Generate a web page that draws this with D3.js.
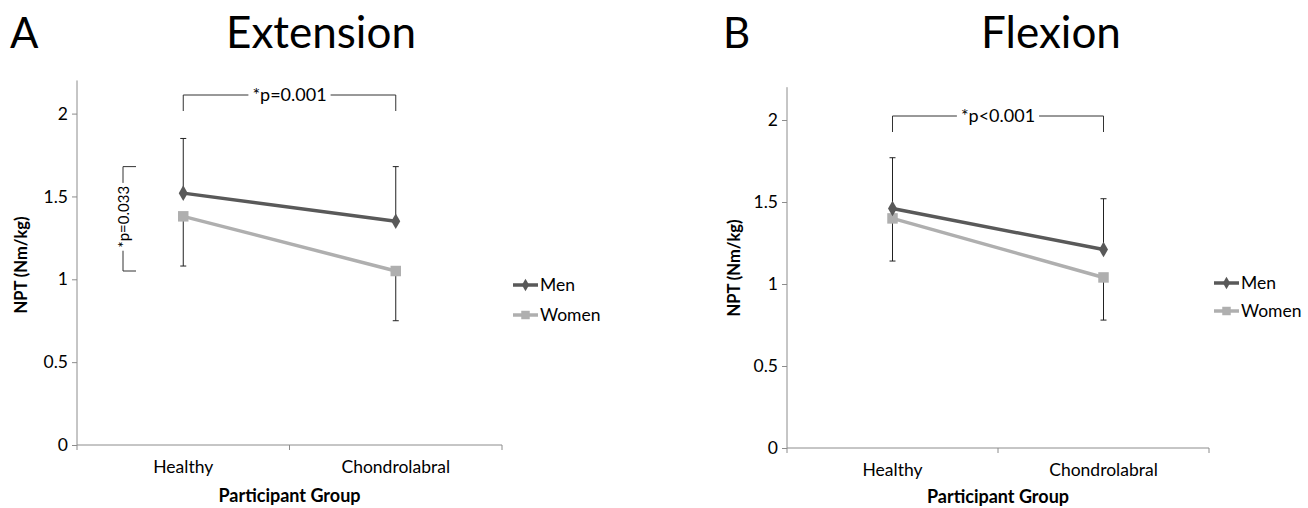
<!DOCTYPE html>
<html><head><meta charset="utf-8">
<script src="https://cdn.jsdelivr.net/npm/d3@7"></script>
<style>
body{margin:0;background:#fff;}
svg{display:block;font-family:Lato,"Open Sans",sans-serif;}
</style></head>
<body><svg id="c" width="1308" height="508"></svg>
<script>
// ---- data ----
const categories = ["Healthy", "Chondrolabral"];
const seriesNames = ["Men", "Women"];
const yTicks = [0, 0.5, 1, 1.5, 2];
const yMax = 2.2;

const extMen = [1.52, 1.35];
const extWomen = [1.38, 1.05];
const extMenSD = [0.33, 0.33];     // upward error bars
const extWomenSD = [0.30, 0.30];   // downward error bars

const flexMen = [1.46, 1.21];
const flexWomen = [1.40, 1.04];
const flexMenSD = [0.31, 0.31];
const flexWomenSD = [0.26, 0.26];

const panelLetters = ["A", "B"];
const panelTitles = ["Extension", "Flexion"];
const yLabel = "NPT (Nm/kg)";
const xLabel = "Participant Group";
const extPGroup = "*p=0.001";
const extPSex = "*p=0.033";
const extSexRange = [1.05, 1.68];
const flexPGroup = "*p<0.001";

const menColor = "#595959", womenColor = "#afafaf", axisColor = "#8c8c8c";

const svg = d3.select("#c");

function panel(o) {
  const g = svg.append("g");
  const x = d3.scaleBand().domain(categories).range([o.x0, o.x1]);
  const y = d3.scaleLinear().domain([0, yMax]).range([o.yb, o.yb - yMax * o.pxPerUnit]);
  const cx = c => x(c) + x.bandwidth() / 2;

  // titles
  g.append("text").attr("x", o.letterX).attr("y", 48).attr("font-size", 42).attr("fill", "#000").text(o.letter);
  g.append("text").attr("x", o.titleX).attr("y", 48).attr("font-size", 44).attr("text-anchor", "middle").attr("fill", "#000").text(o.title);

  // y axis
  const ya = g.append("g").attr("transform", `translate(${o.x0},0)`)
    .call(d3.axisLeft(y).tickValues(yTicks).tickSize(5).tickFormat(d3.format("")));
  ya.select(".domain").attr("stroke", axisColor).attr("d", `M0,${o.yb}V${y(yMax)}`);
  ya.selectAll(".tick line").attr("stroke", axisColor);
  ya.selectAll(".tick text").attr("font-size", 17.5).attr("fill", "#000").attr("x", -9).attr("font-family", "Lato, sans-serif");

  // x axis
  const xa = g.append("g").attr("transform", `translate(0,${o.yb})`)
    .call(d3.axisBottom(x).tickSize(0).tickPadding(16));
  xa.select(".domain").attr("stroke", axisColor).attr("d", `M${o.x0},5V0H${o.x1}V5`);
  xa.selectAll(".tick text").attr("font-size", 17.5).attr("fill", "#000").attr("font-family", "Lato, sans-serif");
  g.append("line").attr("x1", x(categories[1])).attr("x2", x(categories[1])).attr("y1", o.yb).attr("y2", o.yb + 5).attr("stroke", axisColor);

  // axis labels
  g.append("text").attr("transform", `translate(${o.yLabX},${o.yLabY}) rotate(-90)`)
    .attr("text-anchor", "middle").attr("font-size", 16.5).attr("font-weight", "bold").text(yLabel);
  g.append("text").attr("x", (o.x0 + o.x1) / 2).attr("y", o.xLabY).attr("text-anchor", "middle")
    .attr("font-size", 18).attr("font-weight", "bold").text(xLabel);

  // error bars
  const eb = (vals, sd, dir) => {
    categories.forEach((c, i) => {
      const xv = cx(c), y1 = y(vals[i]), y2 = y(vals[i] + dir * sd[i]);
      g.append("line").attr("x1", xv).attr("x2", xv).attr("y1", y1).attr("y2", y2).attr("stroke", "#222").attr("stroke-width", 1);
      g.append("line").attr("x1", xv - 3).attr("x2", xv + 3).attr("y1", y2).attr("y2", y2).attr("stroke", "#222").attr("stroke-width", 1);
    });
  };
  eb(o.men, o.menSD, 1);
  eb(o.women, o.womenSD, -1);

  // lines
  const line = d3.line().x((d, i) => cx(categories[i])).y(d => y(d));
  g.append("path").datum(o.women).attr("d", line).attr("fill", "none").attr("stroke", womenColor).attr("stroke-width", 3.5);
  g.append("path").datum(o.men).attr("d", line).attr("fill", "none").attr("stroke", menColor).attr("stroke-width", 3.5);
  const sq = d3.symbol(d3.symbolSquare, 110), dm = d3.symbol(d3.symbolDiamond, 70);
  o.women.forEach((v, i) => g.append("path").attr("d", sq()).attr("transform", `translate(${cx(categories[i])},${y(v)})`).attr("fill", womenColor));
  o.men.forEach((v, i) => g.append("path").attr("d", dm()).attr("transform", `translate(${cx(categories[i])},${y(v)})`).attr("fill", menColor));

  // legend
  [[seriesNames[0], menColor, d3.symbol(d3.symbolDiamond, 45)], [seriesNames[1], womenColor, d3.symbol(d3.symbolSquare, 72)]].forEach((s, i) => {
    const ly = o.legY + i * o.legGap;
    g.append("line").attr("x1", o.legX).attr("x2", o.legX + 25).attr("y1", ly).attr("y2", ly).attr("stroke", s[1]).attr("stroke-width", 3.5);
    g.append("path").attr("d", s[2]()).attr("transform", `translate(${o.legX + 12.5},${ly})`).attr("fill", s[1]);
    g.append("text").attr("x", o.legX + 27).attr("y", ly + 6).attr("font-size", 17.5).text(s[0]);
  });

  // group significance bracket
  const bx1 = cx(categories[0]), bx2 = cx(categories[1]);
  const by = o.brY, bt = o.brY + 16;
  const mid = (bx1 + bx2) / 2;
  const t = g.append("text").attr("x", mid).attr("y", by + 6).attr("text-anchor", "middle").attr("font-size", 18).text(o.pGroup);
  const tw = t.node().getComputedTextLength() / 2 + 4;
  g.append("path").attr("d", `M${bx1},${bt}V${by}H${mid - tw}M${mid + tw},${by}H${bx2}V${bt}`)
    .attr("fill", "none").attr("stroke", "#333").attr("stroke-width", 1);

  // sex significance bracket (vertical)
  if (o.pSex) {
    const vx = o.sexX, ya1 = y(o.sexRange[1]), ya2 = y(o.sexRange[0]);
    const ym = (ya1 + ya2) / 2 - 2;
    const st = g.append("text").attr("transform", `translate(${vx + 6},${ym}) rotate(-90)`)
      .attr("text-anchor", "middle").attr("font-size", 15).text(o.pSex);
    const sw = st.node().getComputedTextLength() / 2 + 3;
    g.append("path").attr("d", `M${vx + 13},${ya1}H${vx}V${ym - sw}M${vx},${ym + sw}V${ya2}H${vx + 13}`)
      .attr("fill", "none").attr("stroke", "#333").attr("stroke-width", 1);
  }
}

panel({ x0: 77, x1: 502, yb: 445, pxPerUnit: 165.7, letter: panelLetters[0], letterX: 10, title: panelTitles[0], titleX: 321,
  yLabX: 27, yLabY: 265, xLabY: 502, men: extMen, women: extWomen, menSD: extMenSD, womenSD: extWomenSD, legX: 513, legY: 285, legGap: 30,
  brY: 95, pGroup: extPGroup, pSex: extPSex, sexRange: extSexRange, sexX: 123 });

panel({ x0: 787, x1: 1209, yb: 448, pxPerUnit: 164, letter: panelLetters[1], letterX: 723, title: panelTitles[1], titleX: 1051,
  yLabX: 740, yLabY: 268, xLabY: 503, men: flexMen, women: flexWomen, menSD: flexMenSD, womenSD: flexWomenSD, legX: 1214, legY: 283, legGap: 28,
  brY: 116, pGroup: flexPGroup });
</script>
</body></html>
